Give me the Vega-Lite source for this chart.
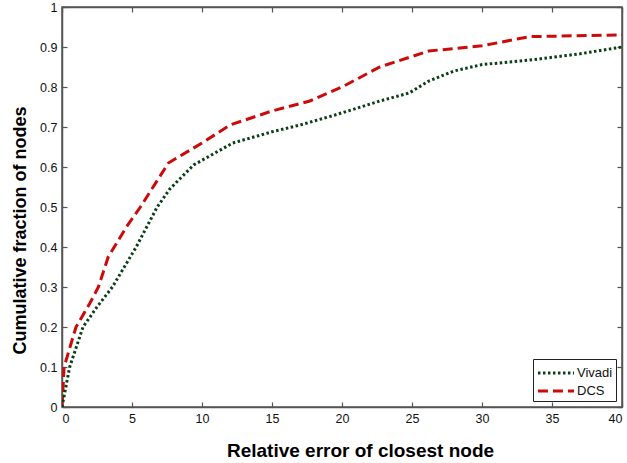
{
  "$schema": "https://vega.github.io/schema/vega-lite/v6.json",
  "width": 560,
  "height": 400,
  "autosize": {"type": "none"},
  "padding": {"left": 62, "top": 7, "right": 5, "bottom": 56},
  "background": "white",
  "config": {
    "view": {"stroke": "#555555", "strokeWidth": 1.5},
    "font": "Liberation Sans",
    "axis": {
      "grid": false,
      "domainColor": "#555555",
      "domainWidth": 1.5,
      "tickColor": "#555555",
      "tickWidth": 1.2,
      "tickSize": -5,
      "labelFont": "Liberation Sans Narrow, Liberation Sans, sans-serif",
      "labelFontSize": 12.5,
      "labelColor": "#111111",
      "titleFont": "Liberation Sans, Arial, sans-serif",
      "titleFontWeight": "bold",
      "titleColor": "#000000"
    }
  },
  "data": {
    "values": [
      {"err": 0, "frac": 0, "method": "DCS"},
      {"err": 0.15, "frac": 0.1, "method": "DCS"},
      {"err": 1.0, "frac": 0.2, "method": "DCS"},
      {"err": 2.0, "frac": 0.26, "method": "DCS"},
      {"err": 2.6, "frac": 0.3, "method": "DCS"},
      {"err": 3.3, "frac": 0.375, "method": "DCS"},
      {"err": 4.6, "frac": 0.45, "method": "DCS"},
      {"err": 5.6, "frac": 0.5, "method": "DCS"},
      {"err": 7.6, "frac": 0.61, "method": "DCS"},
      {"err": 10.0, "frac": 0.66, "method": "DCS"},
      {"err": 12.0, "frac": 0.705, "method": "DCS"},
      {"err": 15.0, "frac": 0.74, "method": "DCS"},
      {"err": 17.7, "frac": 0.765, "method": "DCS"},
      {"err": 20.0, "frac": 0.8, "method": "DCS"},
      {"err": 22.7, "frac": 0.85, "method": "DCS"},
      {"err": 26.2, "frac": 0.89, "method": "DCS"},
      {"err": 30.0, "frac": 0.903, "method": "DCS"},
      {"err": 33.4, "frac": 0.926, "method": "DCS"},
      {"err": 40.0, "frac": 0.93, "method": "DCS"},
      {"err": 0, "frac": 0, "method": "Vivadi"},
      {"err": 0.55, "frac": 0.1, "method": "Vivadi"},
      {"err": 1.5, "frac": 0.2, "method": "Vivadi"},
      {"err": 2.5, "frac": 0.25, "method": "Vivadi"},
      {"err": 3.6, "frac": 0.3, "method": "Vivadi"},
      {"err": 5.3, "frac": 0.4, "method": "Vivadi"},
      {"err": 6.8, "frac": 0.5, "method": "Vivadi"},
      {"err": 7.7, "frac": 0.545, "method": "Vivadi"},
      {"err": 9.4, "frac": 0.605, "method": "Vivadi"},
      {"err": 12.2, "frac": 0.66, "method": "Vivadi"},
      {"err": 15.0, "frac": 0.688, "method": "Vivadi"},
      {"err": 17.0, "frac": 0.705, "method": "Vivadi"},
      {"err": 19.5, "frac": 0.73, "method": "Vivadi"},
      {"err": 22.7, "frac": 0.765, "method": "Vivadi"},
      {"err": 24.8, "frac": 0.785, "method": "Vivadi"},
      {"err": 26.2, "frac": 0.815, "method": "Vivadi"},
      {"err": 28.0, "frac": 0.84, "method": "Vivadi"},
      {"err": 30.0, "frac": 0.856, "method": "Vivadi"},
      {"err": 33.6, "frac": 0.868, "method": "Vivadi"},
      {"err": 37.0, "frac": 0.883, "method": "Vivadi"},
      {"err": 40.0, "frac": 0.9, "method": "Vivadi"}
    ]
  },
  "layer": [
    {
      "mark": {"type": "line", "strokeWidth": 3, "clip": true},
      "encoding": {
        "x": {
          "field": "err", "type": "quantitative",
          "scale": {"domain": [0, 40], "nice": false, "zero": false},
          "axis": {"values": [0, 5, 10, 15, 20, 25, 30, 35, 40], "labelPadding": 10, "title": "Relative error of closest node", "titleFontSize": 19, "titleX": 298, "titleAlign": "center", "titlePadding": 17}
        },
        "y": {
          "field": "frac", "type": "quantitative",
          "scale": {"domain": [0, 1], "nice": false},
          "axis": {"values": [0, 0.1, 0.2, 0.3, 0.4, 0.5, 0.6, 0.7, 0.8, 0.9, 1], "format": ".1~f", "labelPadding": 10, "title": "Cumulative fraction of nodes", "titleFontSize": 18, "titleY": 223, "titlePadding": 10}
        },
        "color": {
          "field": "method", "type": "nominal",
          "scale": {"domain": ["Vivadi", "DCS"], "range": ["#0a3f16", "#cc0a0a"]},
          "legend": {
            "title": null,
            "orient": "bottom-right",
            "offset": 6,
            "strokeColor": "#222222",
            "fillColor": "white",
            "padding": 3,
            "symbolType": "M-1.9,0H1.9",
            "symbolSize": 361,
            "symbolStrokeWidth": 3,
            "symbolOffset": 9,
            "labelFont": "Liberation Sans Narrow, Liberation Sans, sans-serif",
            "labelFontSize": 13,
            "labelColor": "#111111",
            "labelOffset": 10,
            "rowPadding": 0
          }
        },
        "strokeDash": {
          "field": "method", "type": "nominal",
          "scale": {"domain": ["Vivadi", "DCS"], "range": [[2.5, 2.5], [10, 5]]},
          "legend": null
        }
      }
    },
    {
      "mark": {"type": "rule", "opacity": 0},
      "encoding": {
        "x": {
          "field": "err", "type": "quantitative",
          "axis": {"orient": "top", "values": [0, 5, 10, 15, 20, 25, 30, 35, 40], "labels": false, "title": null}
        },
        "y": {
          "field": "frac", "type": "quantitative",
          "axis": {"orient": "right", "values": [0, 0.1, 0.2, 0.3, 0.4, 0.5, 0.6, 0.7, 0.8, 0.9, 1], "labels": false, "title": null}
        }
      }
    }
  ],
  "resolve": {"axis": {"x": "independent", "y": "independent"}}
}
